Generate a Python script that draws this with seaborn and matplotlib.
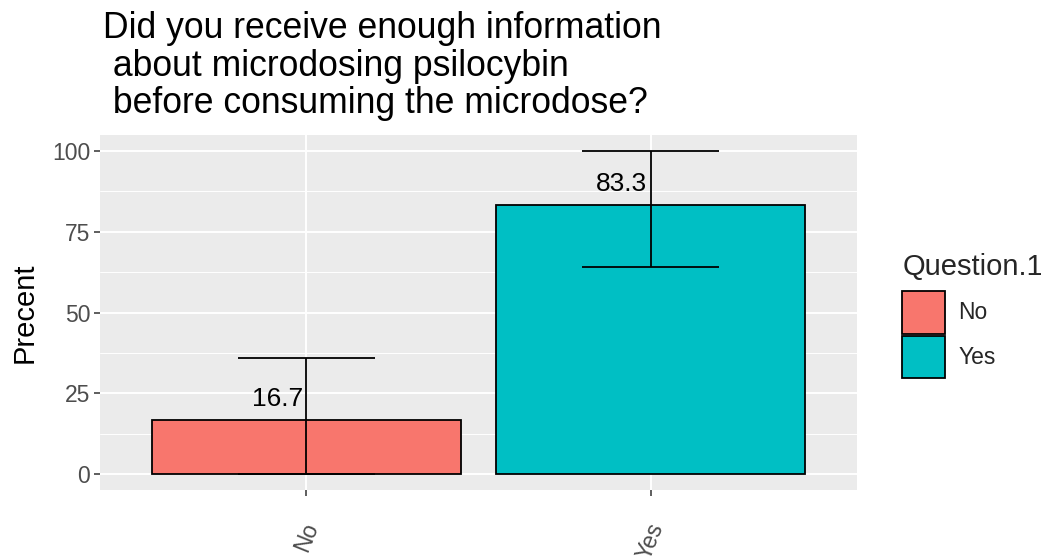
import matplotlib
matplotlib.use("Agg")
import matplotlib.pyplot as plt
from matplotlib.patches import Patch
import seaborn as sns
import pandas as pd
import numpy as np

# ---- data ----
categories = ["No", "Yes"]
percent = [16.7, 83.3]
err_low = [0.0, 64.2]
err_high = [36.0, 100.0]
bar_labels = ["16.7", "83.3"]
colors = ["#F8766D", "#00BFC4"]
y_ticks = [0, 25, 50, 75, 100]
title_text = "Did you receive enough information\n about microdosing psilocybin\n before consuming the microdose?"

df = pd.DataFrame({"Question.1": categories, "Precent": percent})

sns.set_theme(style="darkgrid")
plt.rcParams["font.family"] = ["Liberation Sans", "DejaVu Sans"]

W, H = 1041, 558
fig = plt.figure(figsize=(W / 100, H / 100), dpi=100)
ax = fig.add_axes([100 / W, 1 - 490 / H, (857 - 100) / W, (490 - 135) / H])
ax.set_facecolor("#EBEBEB")

sns.barplot(data=df, x="Question.1", y="Precent", hue="Question.1",
            palette=colors, order=categories, hue_order=categories,
            width=0.9, edgecolor="black", linewidth=1.3, legend=False,
            saturation=1, errorbar=None, ax=ax, zorder=3)

xpos = np.arange(len(categories))
ax.vlines(xpos, err_low, err_high, color="black", linewidth=1.3, zorder=4)
ax.hlines(err_low, xpos - 0.2, xpos + 0.2, color="black", linewidth=1.3, zorder=4)
ax.hlines(err_high, xpos - 0.2, xpos + 0.2, color="black", linewidth=1.3, zorder=4)

for x, v, lab in zip(xpos, percent, bar_labels):
    ax.text(x - 0.085, v + 6.4, lab, ha="center", va="center",
            fontsize=19, color="black", zorder=5)

ax.set_xlim(-0.6, 1.6)
ax.set_ylim(-5, 105)
ax.set_yticks(y_ticks)
ax.set_yticks([12.5, 37.5, 62.5, 87.5], minor=True)
ax.grid(which="major", color="white", linewidth=1.4)
ax.grid(which="minor", axis="y", color="white", linewidth=0.7)
ax.set_axisbelow(True)
for s in ax.spines.values():
    s.set_visible(False)

ax.tick_params(axis="y", which="major", length=4, width=1.1, color="#333333",
               labelsize=16.5, labelcolor="#4D4D4D", pad=3, left=True)
ax.tick_params(axis="y", which="minor", length=0)
ax.tick_params(axis="x", length=4, width=1.1, color="#333333",
               labelsize=16.5, labelcolor="#4D4D4D", pad=17, bottom=True)
for lbl in ax.get_xticklabels():
    lbl.set_rotation(68)
    lbl.set_ha("center")
    lbl.set_va("top")

ax.set_xlabel("")
ax.set_ylabel("Precent", fontsize=21, color="black", labelpad=10)

fig.text(103 / W, 1 - 11 / H, title_text, ha="left", va="top",
         fontsize=25.6, color="black", linespacing=1.1)

handles = [Patch(facecolor=c, edgecolor="black", linewidth=1.3) for c in colors]
leg = fig.legend(handles, categories, title="Question.1",
                 loc="upper left", bbox_to_anchor=(893 / W, 1 - 244 / H),
                 frameon=False, fontsize=16.5, title_fontsize=21,
                 handlelength=1.85, handleheight=2.5, labelspacing=0.08,
                 handletextpad=0.6, borderaxespad=0)
leg._legend_box.align = "left"
leg._legend_box.sep = 7

fig.savefig("out.png", dpi=100)
